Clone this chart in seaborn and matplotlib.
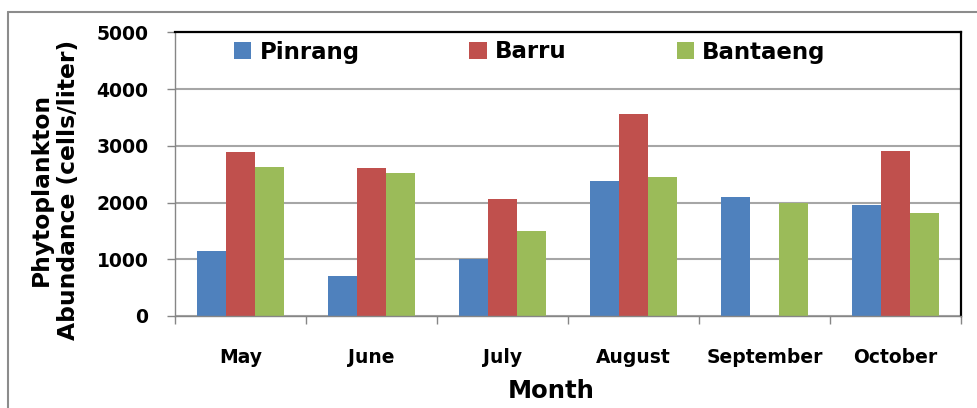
import numpy as np
import pandas as pd
import matplotlib
matplotlib.use('Agg')
import matplotlib.pyplot as plt
import seaborn as sns
from matplotlib.lines import Line2D

# data
MONTHS = ['May', 'June', 'July', 'August', 'September', 'October']
SITES = ['Pinrang', 'Barru', 'Bantaeng']
PINRANG = [1150, 705, 1000, 2385, 2100, 1960]
BARRU = [2890, 2610, 2060, 3565, np.nan, 2910]
BANTAENG = [2625, 2520, 1500, 2455, 1995, 1820]
COLORS = ['#4F81BD', '#C0504D', '#9BBB59']
Y_TICKS = [0, 1000, 2000, 3000, 4000, 5000]

df = pd.DataFrame({
    'Month': MONTHS * 3,
    'Site': np.repeat(SITES, len(MONTHS)),
    'Abundance': PINRANG + BARRU + BANTAENG,
})

sns.set_style('white')
plt.rcParams['font.family'] = ['DejaVu Sans']
plt.rcParams['font.weight'] = 'bold'
plt.rcParams['axes.labelweight'] = 'bold'
plt.rcParams['text.color'] = 'black'
plt.rcParams['axes.labelcolor'] = 'black'
plt.rcParams['xtick.labelcolor'] = 'black'
plt.rcParams['ytick.labelcolor'] = 'black'

fig = plt.figure(figsize=(9.78, 4.08), dpi=100)
ax = fig.add_axes([0.1789, 0.2255, 0.8037, 0.6953])

sns.barplot(data=df, x='Month', y='Abundance', hue='Site', order=MONTHS,
            hue_order=SITES, palette=COLORS, width=0.664, errorbar=None,
            saturation=1, linewidth=0, ax=ax)

ax.set_xlim(-0.5, 5.5)
ax.set_ylim(0, 5000)
ax.set_yticks(Y_TICKS)
ax.yaxis.grid(True, color='#a6a6a6', lw=1.5)
ax.set_axisbelow(True)

# month labels at centres, tick marks at category boundaries
ax.set_xticks(range(len(MONTHS)))
ax.set_xticklabels(MONTHS)
ax.set_xticks(np.arange(-0.5, len(MONTHS), 1), minor=True)
ax.tick_params(axis='x', which='major', length=0, pad=23, labelsize=13.5)
ax.tick_params(axis='x', which='minor', length=6, width=1, color='#868686',
               direction='out', bottom=True)
ax.tick_params(axis='y', length=6, width=1, color='#868686', left=True,
               pad=13, labelsize=13.5)

for side in ['top', 'right']:
    ax.spines[side].set_color('black')
    ax.spines[side].set_linewidth(1.6)
for side in ['left', 'bottom']:
    ax.spines[side].set_color('#868686')
    ax.spines[side].set_linewidth(1.0)

ax.set_xlabel('Month', fontsize=17.5)
ax.xaxis.set_label_coords(0.4784, -0.222)
ax.set_ylabel('Phytoplankton\nAbundance (cells/liter)', fontsize=16.8,
              linespacing=1.2)
ax.yaxis.set_label_coords(-0.121, 0.445)

handles, labels = ax.get_legend_handles_labels()
ax.legend(handles, labels, ncol=3, frameon=False, fontsize=16.5,
          loc='center left', bbox_to_anchor=(234 / 978, 1 - 52 / 408),
          bbox_transform=fig.transFigure, borderpad=0, borderaxespad=0,
          handlelength=0.76, handleheight=0.76, handletextpad=0.35,
          columnspacing=4.8)

# outer chart border (top and left edge visible)
fig.add_artist(Line2D([8 / 978, 8 / 978], [0, 1 - 12 / 408],
                      transform=fig.transFigure, color='#8c8c8c', lw=1.5))
fig.add_artist(Line2D([8 / 978, 1], [1 - 12 / 408, 1 - 12 / 408],
                      transform=fig.transFigure, color='#8c8c8c', lw=1.5))

fig.savefig('out.png', dpi=100)
